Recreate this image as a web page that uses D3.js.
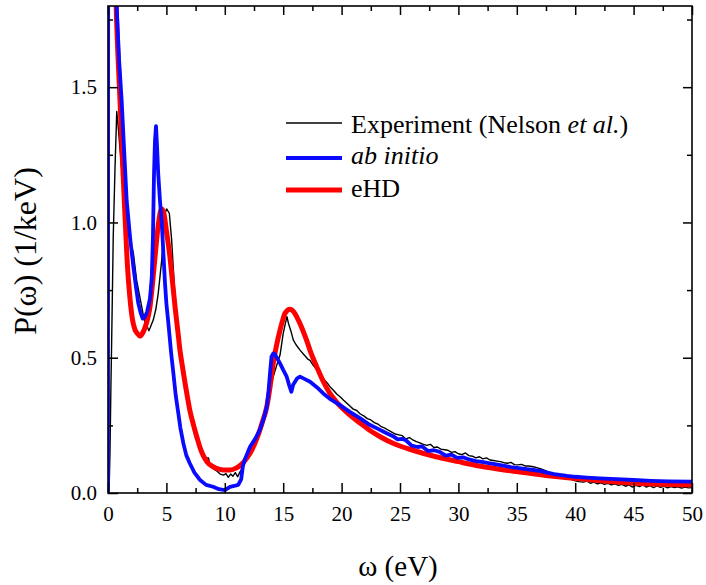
<!DOCTYPE html>
<html>
  <head>
    <meta charset="utf-8">
    <title>P(omega) spectrum</title>
    <script src="https://d3js.org/d3.v7.min.js"></script>
    <style>
      body { margin: 0; background: #fff; }
    </style>
  </head>
<body>
<script type="text/javascript">
  "use strict";

  // values: [omega (eV), P (1/keV)]
  var experiment = [
    [0,0],[0.1,0.02],[0.17,0.15],[0.25,0.4],[0.31,0.55],[0.45,0.95],[0.6,1.2],[0.75,1.41],
    [0.88,1.35],[1.03,1.27],[1.31,1.13],[1.6,1.02],[1.88,0.935],[2.17,0.887],[2.45,0.787],
    [2.88,0.69],[3.1,0.64],[3.31,0.62],[3.5,0.6],[3.6,0.61],[3.88,0.64],[4.1,0.68],[4.3,0.738],
    [4.6,0.861],[4.88,1.034],[5.02,1.05],[5.25,1.034],[5.45,0.935],[5.7,0.75],[6.0,0.58],
    [6.3,0.47],[6.6,0.39],[7.0,0.29],[7.4,0.22],[7.8,0.17],[8.2,0.13],[8.6,0.13],[8.7,0.11],
    [9.0,0.09],[9.3,0.082],[9.6,0.07],[9.9,0.066],[10.1,0.072],[10.3,0.058],[10.5,0.07],
    [10.7,0.062],[10.9,0.075],[11.1,0.06],[11.3,0.078],[11.5,0.09],[11.8,0.12],[12.2,0.16],
    [12.6,0.2],[13.0,0.235],[13.3,0.28],[13.7,0.35],[14.15,0.43],[14.5,0.48],[14.73,0.51],
    [15.0,0.59],[15.2,0.63],[15.32,0.652],[15.45,0.627],[15.65,0.6],[15.87,0.565],[16.1,0.548],
    [16.44,0.528],[16.8,0.51],[17.1,0.495],[17.3,0.49],[17.6,0.47],[17.9,0.455],[18.15,0.442],
    [18.5,0.42],[18.8,0.405],[19.0,0.393],[19.3,0.38],[19.6,0.365],[19.9,0.355],[20.15,0.344],
    [20.5,0.33],[20.8,0.318],[21.0,0.31],[21.3,0.305],[21.6,0.292],[21.9,0.285],[22.2,0.275],
    [22.5,0.27],[22.8,0.26],[23.1,0.255],[23.4,0.245],[23.7,0.24],[24.0,0.232],[24.3,0.225],
    [24.6,0.218],[24.9,0.215],[25.2,0.212],[25.5,0.2],[25.8,0.205],[26.1,0.196],[26.4,0.19],
    [26.7,0.185],[27.0,0.18],[27.3,0.176],[27.6,0.18],[27.9,0.168],[28.2,0.17],[28.5,0.162],
    [28.8,0.16],[29.1,0.158],[29.4,0.15],[29.7,0.153],[30.0,0.145],[30.3,0.142],[30.6,0.148],
    [30.9,0.138],[31.2,0.136],[31.5,0.13],[31.8,0.134],[32.1,0.126],[32.4,0.13],[32.7,0.122],
    [33.0,0.12],[33.3,0.118],[33.6,0.116],[33.9,0.112],[34.2,0.11],[34.5,0.113],[34.8,0.105],
    [35.1,0.104],[35.4,0.106],[35.7,0.1],[36.0,0.1],[36.4,0.097],[36.7,0.094],[37.0,0.09],
    [37.3,0.085],[37.6,0.08],[37.9,0.074],[38.2,0.07],[38.5,0.066],[38.8,0.06],[39.1,0.057],
    [39.4,0.052],[39.7,0.05],[40.0,0.045],[40.3,0.042],[40.7,0.04],[41.0,0.044],[41.3,0.036],
    [41.6,0.04],[41.9,0.034],[42.2,0.038],[42.5,0.032],[42.8,0.036],[43.1,0.03],[43.4,0.034],
    [43.7,0.028],[44.0,0.032],[44.3,0.025],[44.6,0.03],[44.9,0.022],[45.2,0.028],[45.5,0.024],
    [45.8,0.03],[46.1,0.022],[46.4,0.027],[46.7,0.02],[47.0,0.026],[47.3,0.021],[47.6,0.025],
    [47.9,0.019],[48.2,0.024],[48.5,0.02],[48.8,0.023],[49.1,0.018],[49.4,0.022],[49.7,0.019],
    [50.0,0.02]
  ];

  var abInitio = [
    [0,0],[0.02,2.8],[0.5,2.25],[0.74,1.8],[0.95,1.6],[1.17,1.45],[1.4,1.25],[1.6,1.08],
    [1.9,0.94],[2.17,0.836],[2.4,0.76],[2.6,0.7],[2.8,0.665],[2.97,0.645],[3.15,0.65],
    [3.35,0.67],[3.6,0.72],[3.75,0.8],[3.85,0.95],[3.94,1.18],[4.02,1.3],[4.11,1.356],
    [4.2,1.28],[4.3,1.18],[4.45,1.08],[4.6,1.0],[4.75,0.88],[4.88,0.775],[5.0,0.7],
    [5.17,0.627],[5.4,0.52],[5.6,0.442],[5.8,0.36],[6.02,0.295],[6.2,0.24],[6.45,0.184],
    [6.7,0.14],[7.0,0.11],[7.4,0.075],[7.88,0.048],[8.4,0.03],[9.0,0.023],[9.5,0.014],
    [10.0,0.011],[10.45,0.023],[10.8,0.026],[11.15,0.03],[11.4,0.05],[11.55,0.1],[11.7,0.122],
    [12.16,0.171],[12.6,0.2],[13.0,0.233],[13.3,0.27],[13.6,0.32],[13.75,0.38],[13.87,0.442],
    [14.0,0.504],[14.15,0.516],[14.3,0.512],[14.73,0.479],[15.0,0.455],[15.3,0.43],[15.5,0.4],
    [15.7,0.374],[15.85,0.4],[16.0,0.41],[16.2,0.424],[16.44,0.43],[16.9,0.42],[17.3,0.411],
    [17.9,0.39],[18.43,0.368],[19.1,0.345],[19.86,0.325],[20.7,0.3],[21.6,0.276],[22.4,0.252],
    [23.2,0.235],[23.9,0.22],[24.4,0.21],[24.8,0.198],[25.2,0.2],[25.5,0.195],[26.0,0.175],
    [26.5,0.17],[26.9,0.172],[27.4,0.155],[27.9,0.158],[28.4,0.152],[28.9,0.138],[29.4,0.142],
    [29.9,0.13],[30.4,0.132],[30.9,0.124],[31.5,0.118],[32.0,0.115],[32.6,0.11],[33.6,0.103],
    [34.5,0.096],[35.5,0.09],[36.4,0.085],[37.0,0.082],[37.5,0.076],[38.2,0.07],[39.3,0.063],
    [40.0,0.06],[41.0,0.057],[42.1,0.054],[43.5,0.051],[45.0,0.048],[46.5,0.045],[48.0,0.043],
    [50.0,0.042]
  ];

  var eHD = [
    [0.4,2.5],[0.55,2.1],[0.7,1.8],[0.85,1.62],[1.03,1.45],[1.25,1.22],[1.46,1.02],[1.65,0.85],
    [1.88,0.72],[2.1,0.64],[2.3,0.605],[2.5,0.59],[2.74,0.58],[2.95,0.59],[3.2,0.615],
    [3.4,0.645],[3.6,0.69],[3.8,0.77],[4.0,0.86],[4.2,0.95],[4.4,1.02],[4.58,1.05],[4.75,1.04],
    [5.0,0.97],[5.3,0.873],[5.5,0.79],[5.74,0.688],[6.0,0.59],[6.16,0.528],[6.4,0.46],
    [6.6,0.405],[6.8,0.355],[7.0,0.307],[7.3,0.255],[7.6,0.208],[7.9,0.165],[8.16,0.138],
    [8.5,0.114],[9.0,0.097],[9.5,0.088],[9.87,0.085],[10.45,0.085],[11.0,0.093],[11.4,0.105],
    [11.9,0.13],[12.3,0.158],[12.73,0.2],[13.2,0.26],[13.6,0.32],[13.9,0.4],[14.15,0.48],
    [14.45,0.55],[14.73,0.602],[15.0,0.645],[15.15,0.664],[15.58,0.679],[15.9,0.67],
    [16.15,0.652],[16.6,0.61],[17.0,0.565],[17.4,0.515],[17.87,0.467],[18.4,0.415],[19.0,0.368],
    [19.7,0.33],[20.4,0.3],[21.0,0.278],[21.6,0.258],[22.4,0.232],[23.3,0.208],[24.6,0.18],
    [26.1,0.158],[28.0,0.135],[30.0,0.116],[31.8,0.1],[33.5,0.088],[35.0,0.079],[37.5,0.065],
    [40.0,0.054],[42.5,0.044],[45.0,0.036],[47.5,0.032],[50.0,0.03]
  ];

  var xMajor = [0, 5, 10, 15, 20, 25, 30, 35, 40, 45, 50],
      xMinor = [2.5, 7.5, 12.5, 17.5, 22.5, 27.5, 32.5, 37.5, 42.5, 47.5],
      yMajor = [0, 0.5, 1.0, 1.5],
      yMinor = [0.25, 0.75, 1.25, 1.75];

  var legendItems = [
    {key: "exp", color: "#000000", width: 1.4},
    {key: "ab", color: "#0a0aff", width: 3.8},
    {key: "ehd", color: "#ff0000", width: 5}
  ];

  var serif = "'Liberation Serif', 'Times New Roman', serif";

  /*
    layout
  */
  var W = 706, H = 585,
      pLeft = 108, pRight = 692, pTop = 6, pBottom = 493;

  var svg = d3.select("body").append("svg")
      .attr("width", W)
      .attr("height", H)
      .attr("font-family", serif);

  var x = d3.scaleLinear().domain([0, 50]).range([pLeft, pRight]);
  var y = d3.scaleLinear().domain([0, 1.8]).range([pBottom, pTop]);

  svg.append("clipPath").attr("id", "plotclip")
    .append("rect")
      .attr("x", pLeft).attr("y", pTop)
      .attr("width", pRight - pLeft).attr("height", pBottom - pTop);

  /*
    curves: experiment under, eHD, then ab initio on top
  */
  var plot = svg.append("g").attr("clip-path", "url(#plotclip)");

  var lineLin = d3.line()
      .x(function(d) { return x(d[0]); })
      .y(function(d) { return y(d[1]); });
  var lineSmooth = d3.line()
      .x(function(d) { return x(d[0]); })
      .y(function(d) { return y(d[1]); })
      .curve(d3.curveMonotoneX);

  plot.append("path").datum(experiment)
      .attr("d", lineLin)
      .attr("fill", "none")
      .attr("stroke", legendItems[0].color)
      .attr("stroke-width", legendItems[0].width)
      .attr("stroke-linejoin", "round");

  plot.append("path").datum(eHD)
      .attr("d", lineSmooth)
      .attr("fill", "none")
      .attr("stroke", legendItems[2].color)
      .attr("stroke-width", legendItems[2].width)
      .attr("stroke-linejoin", "round");

  plot.append("path").datum(abInitio)
      .attr("d", lineLin)
      .attr("fill", "none")
      .attr("stroke", legendItems[1].color)
      .attr("stroke-width", legendItems[1].width)
      .attr("stroke-linejoin", "round");

  /*
    axes with inward ticks on all four sides
  */
  function styleAxis(g) {
    g.attr("font-family", serif);
    g.select(".domain").remove();
    g.selectAll(".tick line").attr("stroke", "#000").attr("stroke-width", 1.5);
    g.selectAll(".tick text").attr("font-size", 21).attr("fill", "#000");
  }

  svg.append("g").attr("transform", "translate(0," + pBottom + ")")
      .call(d3.axisBottom(x).tickValues(xMajor).tickSize(-10).tickPadding(13)
            .tickFormat(d3.format("d")))
      .call(styleAxis);
  svg.append("g").attr("transform", "translate(0," + pBottom + ")")
      .call(d3.axisBottom(x).tickValues(xMinor).tickSize(-5).tickFormat(""))
      .call(styleAxis);
  svg.append("g").attr("transform", "translate(0," + pTop + ")")
      .call(d3.axisTop(x).tickValues(xMajor).tickSize(-9).tickFormat(""))
      .call(styleAxis);
  svg.append("g").attr("transform", "translate(0," + pTop + ")")
      .call(d3.axisTop(x).tickValues(xMinor).tickSize(-5).tickFormat(""))
      .call(styleAxis);

  svg.append("g").attr("transform", "translate(" + pLeft + ",0)")
      .call(d3.axisLeft(y).tickValues(yMajor).tickSize(-10).tickPadding(11)
            .tickFormat(d3.format(".1f")))
      .call(styleAxis);
  svg.append("g").attr("transform", "translate(" + pLeft + ",0)")
      .call(d3.axisLeft(y).tickValues(yMinor).tickSize(-5).tickFormat(""))
      .call(styleAxis);
  svg.append("g").attr("transform", "translate(" + pRight + ",0)")
      .call(d3.axisRight(y).tickValues(yMajor).tickSize(-9).tickFormat(""))
      .call(styleAxis);
  svg.append("g").attr("transform", "translate(" + pRight + ",0)")
      .call(d3.axisRight(y).tickValues(yMinor).tickSize(-5).tickFormat(""))
      .call(styleAxis);

  svg.append("rect")
      .attr("x", pLeft).attr("y", pTop)
      .attr("width", pRight - pLeft).attr("height", pBottom - pTop)
      .attr("fill", "none")
      .attr("stroke", "#000")
      .attr("stroke-width", 1.6);

  /*
    axis titles
  */
  svg.append("text")
      .attr("x", 398).attr("y", 576)
      .attr("text-anchor", "middle")
      .attr("font-size", 29)
      .text("\u03c9 (eV)");

  svg.append("text")
      .attr("transform", "translate(36,251) rotate(-90)")
      .attr("text-anchor", "middle")
      .attr("font-size", 32)
      .text("P(\u03c9) (1/keV)");

  /*
    legend
  */
  var legendY = [123, 158, 190],
      legendBase = [133, 164, 197];
  var lg = svg.append("g");
  legendItems.forEach(function(item, i) {
    lg.append("line")
      .attr("x1", 286).attr("x2", 342)
      .attr("y1", legendY[i]).attr("y2", legendY[i])
      .attr("stroke", item.color)
      .attr("stroke-width", item.width);
  });

  var t0 = lg.append("text").attr("x", 351).attr("y", legendBase[0]).attr("font-size", 26);
  t0.append("tspan").text("Experiment (Nelson ");
  t0.append("tspan").attr("font-style", "italic").text("et al.");
  t0.append("tspan").text(")");

  lg.append("text").attr("x", 351).attr("y", legendBase[1])
      .attr("font-size", 26).attr("font-style", "italic")
      .text("ab initio");

  lg.append("text").attr("x", 351).attr("y", legendBase[2])
      .attr("font-size", 26)
      .text("eHD");
</script>
</body>
</html>
